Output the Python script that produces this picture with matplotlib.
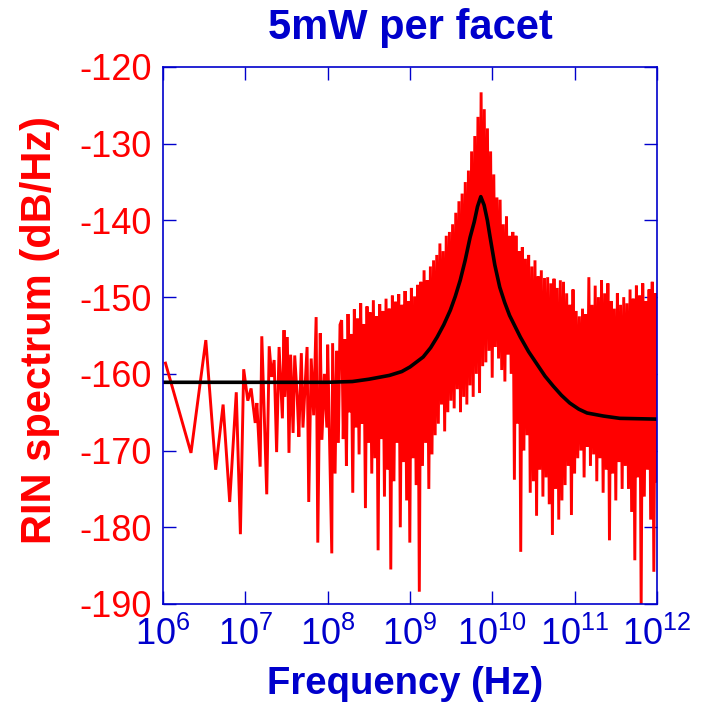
import numpy as np
import matplotlib
matplotlib.use("Agg")
import matplotlib.pyplot as plt

plt.rcParams['font.family'] = ['Liberation Sans', 'DejaVu Sans']
plt.rcParams['mathtext.fontset'] = 'custom'
plt.rcParams['mathtext.rm'] = 'Liberation Sans'
plt.rcParams['mathtext.it'] = 'Liberation Sans'
plt.rcParams['axes.unicode_minus'] = False

BLUE = '#0000cc'
RED = '#ff0000'

# measured RIN, low-frequency part (sparse FFT bins), log10(f) and dB/Hz
low_exp = [6.03, 6.34, 6.52, 6.64, 6.73, 6.81, 6.89, 6.94, 6.98, 7.03,
           7.07, 7.12, 7.14, 7.18, 7.20, 7.26, 7.29, 7.32, 7.35, 7.38,
           7.41, 7.45, 7.47, 7.48, 7.51, 7.53, 7.55, 7.58, 7.60, 7.63,
           7.65, 7.68, 7.70, 7.75, 7.77, 7.80, 7.83, 7.86, 7.88, 7.91,
           7.93, 7.96, 7.99, 8.00, 8.05, 8.06, 8.09, 8.11, 8.13, 8.15]
low_rin = [-158.6, -170.3, -155.6, -172.5, -164.0, -176.7, -162.4, -180.9, -159.4, -163.5,
           -161.9, -166.4, -163.8, -172.1, -155.1, -175.7, -156.4, -160.4, -158.2, -170.2,
           -156.5, -165.8, -154.3, -163.0, -155.2, -170.3, -157.5, -167.7, -157.6, -163.0,
           -168.2, -157.3, -167.0, -156.5, -176.7, -158.0, -165.4, -152.6, -182.0, -154.7,
           -168.6, -160.0, -167.0, -156.2, -183.4, -156.0, -173.0, -157.0, -169.0, -153.6]

# measured RIN, dense part from 1.5e8 Hz to 1e12 Hz (dB/Hz)
high_rin = [
    -153.0, -168.5, -155.5, -172.0, -152.2, -165.0, -154.8, -175.5, -151.6, -167.0,
    -152.8, -170.5, -150.8, -166.5, -153.5, -177.5, -151.2, -169.0, -152.0, -173.0,
    -150.4, -171.0, -152.5, -183.0, -150.9, -168.5, -151.8, -176.0, -150.2, -172.5,
    -151.5, -185.5, -149.8, -174.0, -150.6, -169.0, -149.6, -180.0, -151.0, -171.5,
    -149.2, -176.5, -150.5, -182.0, -148.8, -171.0, -149.9, -174.5, -148.4, -188.4,
    -148.0, -172.0, -146.5, -169.0, -147.8, -175.0, -146.0, -170.5, -145.2, -168.0,
    -144.5, -166.5, -143.0, -164.0, -144.0, -167.5, -142.0, -165.0, -141.5, -163.5,
    -140.5, -164.5, -139.0, -162.0, -137.5, -165.0, -136.5, -163.0, -135.0, -164.0,
    -133.5, -161.5, -131.0, -163.0, -129.0, -160.0, -126.5, -162.5, -123.3, -159.0,
    -125.5, -158.5, -128.0, -157.0, -131.0, -160.5, -134.0, -156.5, -137.0, -158.0,
    -137.3, -159.5, -140.5, -161.0, -139.5, -157.5, -142.0, -160.0, -141.5, -173.8,
    -142.0, -166.5, -144.0, -183.2, -143.5, -170.0, -145.0, -168.0, -144.5, -175.5,
    -146.0, -174.0, -145.2, -178.5, -147.3, -172.5, -146.5, -176.0, -147.5, -173.5,
    -147.4, -177.0, -148.2, -181.0, -147.6, -175.0, -148.8, -179.0, -147.8, -176.5,
    -148.0, -174.5, -149.5, -172.0, -151.0, -178.4, -149.0, -173.0, -151.8, -171.0,
    -152.5, -170.0, -151.5, -173.5, -152.2, -169.5, -147.4, -172.0, -151.0, -170.5,
    -148.5, -174.0, -150.0, -171.0, -147.8, -175.5, -149.5, -172.5, -148.2, -181.7,
    -150.5, -173.0, -151.5, -176.5, -149.5, -171.5, -151.0, -175.0, -150.0, -172.0,
    -150.8, -175.0, -149.0, -178.0, -150.2, -184.3, -148.5, -173.5, -149.8, -190.5,
    -148.2, -176.0, -150.5, -172.5, -149.0, -179.0, -148.0, -185.8, -149.5, -174.0,
]

# fitted RIN curve, log10(f) and dB/Hz
fit_exp = [6.0, 8.0, 8.3, 8.5, 8.75, 8.9, 9.0, 9.16, 9.25, 9.33,
           9.41, 9.49, 9.55, 9.61, 9.67, 9.73, 9.78, 9.82, 9.86, 9.90,
           9.94, 9.97, 10.03, 10.09, 10.15, 10.21, 10.34, 10.44, 10.54, 10.64,
           10.74, 10.84, 10.94, 11.05, 11.15, 11.35, 11.55, 12.0]
fit_rin = [-161.1, -161.1, -161.0, -160.7, -160.2, -159.7, -159.1, -157.8, -156.6, -155.2,
           -153.6, -151.7, -149.9, -147.8, -145.2, -142.2, -140.2, -138.2, -136.9, -138.0,
           -140.0, -142.0, -145.8, -148.7, -150.7, -152.4, -155.2, -157.1, -158.7, -160.3,
           -161.6, -162.8, -163.8, -164.6, -165.1, -165.5, -165.8, -165.9]

x_ticks = [1e6, 1e7, 1e8, 1e9, 1e10, 1e11, 1e12]
x_tick_labels = [r'$10^{6}$', r'$10^{7}$', r'$10^{8}$', r'$10^{9}$',
                 r'$10^{10}$', r'$10^{11}$', r'$10^{12}$']
y_ticks = [-190, -180, -170, -160, -150, -140, -130, -120]

# FFT bins of the dense part, evenly spaced on the log axis
f_high = np.geomspace(10**8.17, 1e12, len(high_rin))
f_meas = np.concatenate([10.0 ** np.array(low_exp), f_high])
rin_meas = np.concatenate([low_rin, high_rin])

fig = plt.figure(figsize=(7.06, 7.05), dpi=100)
ax = fig.add_axes([163/706, 1-604/705, 494/706, 537/705])

ax.plot(f_meas, rin_meas, color=RED, lw=2.1, solid_joinstyle='miter')
ax.plot(10.0 ** np.array(fit_exp), fit_rin, color='black', lw=2.6)

ax.set_xscale('log')
ax.set_xlim(1e6, 1e12)
ax.set_ylim(-190, -120)
ax.set_xticks(x_ticks)
ax.set_xticklabels(x_tick_labels)
ax.set_yticks(y_ticks)
ax.minorticks_off()

for s in ax.spines.values():
    s.set_color(BLUE)
    s.set_linewidth(1.2)

ax.tick_params(direction='in', length=9.5, width=1.0, color=BLUE,
               top=True, right=True, labelsize=26, pad=8)
ax.tick_params(axis='x', labelcolor=BLUE, pad=9)
ax.tick_params(axis='y', labelcolor=RED)

fig.text(410/706, 1-28/705, '5mW per facet', color=BLUE, fontsize=30,
         fontweight='bold', ha='center', va='center')
fig.text(405/706, 1-684/705, 'Frequency (Hz)', color=BLUE, fontsize=27.5,
         fontweight='bold', ha='center', va='center')
fig.text(40/706, 1-330/705, 'RIN spectrum (dB/Hz)', color=RED, fontsize=30,
         fontweight='bold', ha='center', va='center', rotation=90)

fig.savefig('out.png', dpi=100)
